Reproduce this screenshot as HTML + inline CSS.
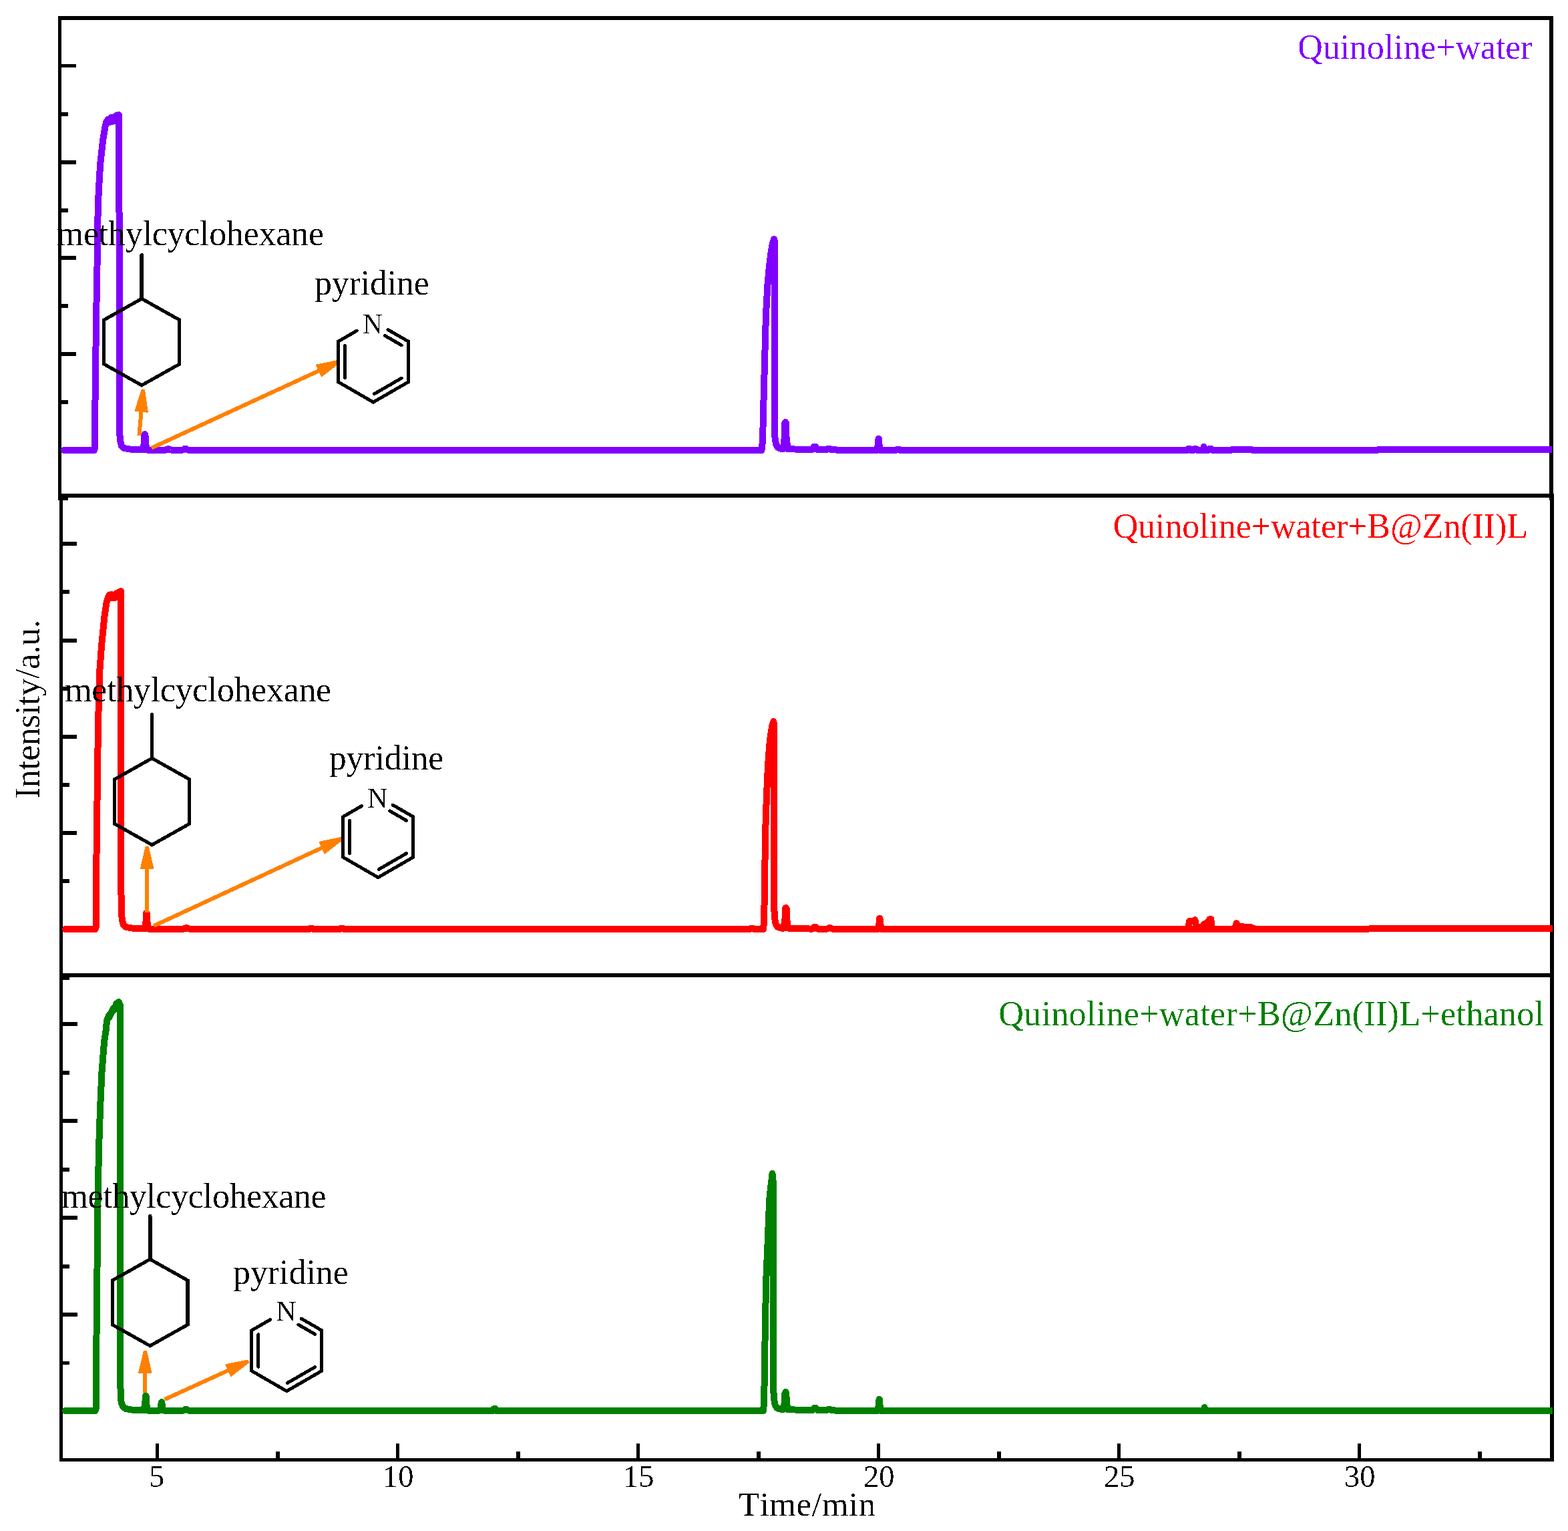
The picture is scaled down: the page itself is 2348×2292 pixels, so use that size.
<!DOCTYPE html>
<html lang="en"><head><meta charset="utf-8"><title>GC chromatograms: quinoline + water</title>
<style>html,body{margin:0;padding:0;background:#fff;}body{width:2348px;height:2292px;overflow:hidden;}svg{display:block;}text{font-family:"Liberation Serif", "DejaVu Serif", serif;font-kerning:none;}</style></head><body>
<svg width="2348" height="2292" viewBox="0 0 2348 2292">
<rect x="0" y="0" width="2348" height="2292" fill="#fff"/>
<g shape-rendering="crispEdges" fill="#000">
<rect x="87" y="24" width="5" height="725" fill="#000"/>
<rect x="2320" y="24" width="6" height="725" fill="#000"/>
<rect x="87" y="24" width="2239" height="6" fill="#000"/>
<rect x="87" y="739" width="2240" height="6" fill="#000"/>
<rect x="89" y="739" width="5" height="1449" fill="#000"/>
<rect x="2321" y="739" width="6" height="1449" fill="#000"/>
<rect x="89" y="1457" width="2238" height="6" fill="#000"/>
<rect x="89" y="2183" width="2238" height="5" fill="#000"/>
<rect x="92" y="96" width="22" height="5" fill="#000"/>
<rect x="92" y="168" width="10" height="6" fill="#000"/>
<rect x="92" y="240" width="22" height="6" fill="#000"/>
<rect x="92" y="312" width="10" height="6" fill="#000"/>
<rect x="92" y="383" width="22" height="6" fill="#000"/>
<rect x="92" y="455" width="10" height="6" fill="#000"/>
<rect x="92" y="527" width="22" height="6" fill="#000"/>
<rect x="92" y="599" width="10" height="6" fill="#000"/>
<rect x="92" y="671" width="22" height="6" fill="#000"/>
<rect x="87" y="745" width="15" height="4" fill="#000"/>
<rect x="94" y="811" width="21" height="6" fill="#000"/>
<rect x="94" y="883" width="10" height="6" fill="#000"/>
<rect x="94" y="956" width="21" height="6" fill="#000"/>
<rect x="94" y="1028" width="10" height="6" fill="#000"/>
<rect x="94" y="1100" width="21" height="6" fill="#000"/>
<rect x="94" y="1172" width="10" height="6" fill="#000"/>
<rect x="94" y="1244" width="21" height="6" fill="#000"/>
<rect x="94" y="1316" width="10" height="6" fill="#000"/>
<rect x="94" y="1388" width="21" height="6" fill="#000"/>
<rect x="89" y="1463" width="15" height="4" fill="#000"/>
<rect x="94" y="1530" width="22" height="6" fill="#000"/>
<rect x="94" y="1603" width="10" height="6" fill="#000"/>
<rect x="94" y="1675" width="22" height="6" fill="#000"/>
<rect x="94" y="1748" width="10" height="6" fill="#000"/>
<rect x="94" y="1820" width="22" height="6" fill="#000"/>
<rect x="94" y="1893" width="10" height="6" fill="#000"/>
<rect x="94" y="1965" width="22" height="6" fill="#000"/>
<rect x="94" y="2038" width="10" height="5" fill="#000"/>
<rect x="94" y="2110" width="22" height="6" fill="#000"/>
<rect x="233" y="2161" width="5" height="22" fill="#000"/>
<rect x="413" y="2173" width="6" height="10" fill="#000"/>
<rect x="593" y="2161" width="5" height="22" fill="#000"/>
<rect x="773" y="2173" width="6" height="10" fill="#000"/>
<rect x="953" y="2161" width="5" height="22" fill="#000"/>
<rect x="1133" y="2173" width="6" height="10" fill="#000"/>
<rect x="1313" y="2161" width="5" height="22" fill="#000"/>
<rect x="1493" y="2173" width="6" height="10" fill="#000"/>
<rect x="1673" y="2161" width="5" height="22" fill="#000"/>
<rect x="1853" y="2173" width="6" height="10" fill="#000"/>
<rect x="2033" y="2161" width="5" height="22" fill="#000"/>
<rect x="2213" y="2173" width="6" height="10" fill="#000"/>
</g>
<defs><clipPath id="c1"><rect x="0" y="0" width="2324" height="2292"/></clipPath><clipPath id="c2"><rect x="0" y="0" width="2325" height="2292"/></clipPath></defs>
<g id="curves" shape-rendering="crispEdges">
<polyline points="96,674 141,674 142,671 142,640 143,560 144,480 145.5,400 146,340 147.7,287 150.2,245 154.4,208 157.2,191 159.2,183 162,178.5 164,183 166.1,176 167.8,182 170.8,175 171.5,181 174.5,172.5 174.2,180 178,172 178.3,200 179,600 179.3,650 180.2,660 182,668 186,671 195,672.5 205,673 214,673.5 216,662.925 216.3,652 216.9,650 217.5,652 217.8,662.925 219.8,673.5 235,673.5 248.5,673.5 251,672.3 253,672.3 255.5,673.5 262,673.5 274.1,673.5 276.6,672 278.6,672 281.1,673.5 290,674 1140.5,674 1142,660 1143.5,600 1145.5,524 1147,470 1149.4,427 1152,398 1154.6,378 1157,364 1159,358 1160,362 1160,640 1160.5,655 1162,665 1165,670 1170,672 1172.9,672 1174.9,654 1175.2,634 1176.2,632 1177.2,634 1177.5,654 1179.5,672 1190,672.5 1212,673 1216.5,673 1219,668.5 1221,668.5 1223.5,673 1234,673 1237.5,673 1240,671.5 1242,671.5 1244.5,673 1260,674 1305,674 1312.85,674 1314.85,666.17 1315.15,658.6 1315.7,656.6 1316.25,658.6 1316.55,666.17 1318.55,674 1335,674 1341.3,674 1343.8,672.5 1345.8,672.5 1348.3,674 1360,674 1772,674 1777.5,674 1779.5,672 1781.5,672 1783.5,674 1786.5,674 1789,672 1791,672 1793.5,674 1797.5,674 1800.6,674 1802.1,671.705 1802.4,670.9 1802.7,668.9 1803,670.9 1803.3,671.705 1804.8,674 1807.5,674 1809,674 1811.5,672 1813.5,672 1816,674 1842,674 1847,672.8 1866,672.8 1868,673.5 1870,672.8 1873,672.8 1876,674 2062,674 2064,673 2334,673" fill="none" stroke="#8000ff" stroke-width="10" stroke-linejoin="round" stroke-linecap="round" clip-path="url(#c1)"/>
<polyline points="98,1391 142.5,1391 143.7,1388 143.7,1360 144.5,1280 145.5,1200 146.5,1120 147.6,1060 149.1,1007 152.2,965 156.4,923 159.6,902 161.5,896 163.5,890.5 165,895 167,890 168.5,895 170,891 172,895 174,888.5 175.5,894 177.5,886.5 178.3,893 181,885 181.2,900 181.5,1340 182,1368 183,1378 185,1385 189,1388 198,1389.5 208,1390 216.5,1390.5 218.5,1379.7 218.8,1368.5 219.4,1366.5 220,1368.5 220.3,1379.7 222.3,1390.5 240,1390.5 275.5,1390.5 278,1389.3 280,1389.3 282.5,1390.5 300,1391 460,1391 462.5,1391 465,1389.8 467,1389.8 469.5,1391 480,1391 505,1391 508.5,1391 511,1389.8 513,1389.8 515.5,1391 520,1391 1120,1391 1122.5,1391 1125,1389.8 1127,1389.8 1129.5,1391 1143,1391 1144.2,1378 1145,1320 1146.2,1244 1148,1190 1150,1147 1152,1118 1154,1100 1156,1088 1158.3,1080 1159.3,1086 1159.3,1360 1160,1374 1161.5,1383 1164.5,1388 1170,1389.5 1173.5,1389.5 1175.5,1375.78 1175.8,1361 1176.8,1359 1177.8,1361 1178.1,1375.78 1180.1,1389.5 1190,1390 1212,1390.5 1217,1390.5 1219.5,1387.5 1221.5,1387.5 1224,1390.5 1234,1390.5 1239.3,1390.5 1241.8,1389.3 1243.8,1389.3 1246.3,1390.5 1256,1391 1306,1391 1314.45,1391 1316.45,1383.66 1316.75,1376.7 1317.3,1374.7 1317.85,1376.7 1318.15,1383.66 1320.15,1391 1335,1391 1600,1390.8 1779.5,1390.8 1781,1379 1785,1379.3 1789.5,1377.4 1790.7,1385 1797,1390.5 1800,1389 1803,1383.4 1806,1383.8 1811.5,1376.2 1813.3,1376.2 1814.3,1386 1816,1390.8 1849,1390.8 1850.6,1385 1851.6,1382.2 1852.8,1384 1854.5,1386.8 1860,1387.1 1867,1388 1873,1387.9 1877,1389.8 1881,1390.8 2335,1390" fill="none" stroke="#ff0000" stroke-width="10" stroke-linejoin="round" stroke-linecap="round" clip-path="url(#c2)"/>
<polyline points="1776,1390.8 1882,1390.8" fill="none" stroke="#ff0000" stroke-width="10" stroke-linejoin="round" stroke-linecap="round"/>
<polyline points="98,2112 142.5,2112 143.7,2109 143.7,2080 144.5,2000 145.5,1900 146.5,1800 148,1720 150,1660 152.5,1605 156,1560 158.6,1543 160.1,1527.5 163.6,1519.3 163.4,1523 169.9,1509.3 170,1512.5 174.6,1502.3 178,1500 179.8,1505 179.9,1540 180.2,2060 180.7,2090 181.7,2100 184.2,2106 188.2,2109 197,2110.5 208,2111 215.4,2111.5 217.4,2101.6 217.7,2091.5 218.3,2089.5 218.9,2091.5 219.2,2101.6 221.2,2111.5 230,2111.5 239.2,2111.5 241.2,2105.88 241.5,2101 242,2099 242.5,2101 242.8,2105.88 244.8,2111.5 262,2111.5 275,2111.5 277.5,2110 279.5,2110 282,2111.5 295,2112 733,2112 738.2,2112 739.7,2109 741.7,2109 743.2,2112 748,2112 1143,2112 1144.2,2098 1145,2040 1146.2,1964 1147.5,1910 1149.5,1863 1151,1825 1152.4,1794 1154,1778 1155.3,1768 1156.5,1757 1157.5,1765 1158,1800 1158.2,2080 1159,2094 1160.5,2103 1163.5,2108 1170,2110 1173.1,2110 1175.1,2098.3 1175.4,2086 1176.4,2084 1177.4,2086 1177.7,2098.3 1179.7,2110 1190,2110.5 1212,2111 1217,2111 1219.5,2108 1221.5,2108 1224,2111 1234,2111 1238,2111 1240.5,2109.8 1242.5,2109.8 1245,2111 1256,2112 1306,2112 1313.85,2112 1315.85,2104.22 1316.15,2096.7 1316.7,2094.7 1317.25,2096.7 1317.55,2104.22 1319.55,2112 1335,2112 1798,2112 1801.9,2112 1803.1,2109.8 1803.4,2109.1 1803.7,2107.1 1804,2109.1 1804.3,2109.8 1805.5,2112 1810,2112 2335,2112" fill="none" stroke="#008000" stroke-width="10" stroke-linejoin="round" stroke-linecap="round" clip-path="url(#c2)"/>
</g>
<g id="arrows" shape-rendering="crispEdges">
<line x1="208.40" y1="652.00" x2="211.69" y2="614.87" stroke="#ff8000" stroke-width="6" stroke-linecap="butt"/>
<polygon points="220.53,616.46 215.92,583.92 212.97,583.66 202.70,614.88" fill="#ff8000" stroke="#ff8000" stroke-width="2.4" stroke-linejoin="round"/>
<line x1="226.90" y1="670.70" x2="478.64" y2="554.53" stroke="#ff8000" stroke-width="6" stroke-linecap="butt"/>
<polygon points="481.66,562.99 507.59,542.80 506.35,540.11 474.16,546.74" fill="#ff8000" stroke="#ff8000" stroke-width="2.4" stroke-linejoin="round"/>
<line x1="220.20" y1="1366.00" x2="220.20" y2="1299.00" stroke="#ff8000" stroke-width="6" stroke-linecap="butt"/>
<polygon points="229.15,1299.80 221.68,1267.80 218.72,1267.80 211.25,1299.80" fill="#ff8000" stroke="#ff8000" stroke-width="2.4" stroke-linejoin="round"/>
<line x1="230.50" y1="1386.00" x2="483.27" y2="1268.69" stroke="#ff8000" stroke-width="6" stroke-linecap="butt"/>
<polygon points="486.31,1277.15 512.19,1256.90 510.94,1254.22 478.77,1260.91" fill="#ff8000" stroke="#ff8000" stroke-width="2.4" stroke-linejoin="round"/>
<line x1="217.10" y1="2085.00" x2="217.29" y2="2054.30" stroke="#ff8000" stroke-width="6" stroke-linecap="butt"/>
<polygon points="226.24,2055.16 218.97,2023.11 216.01,2023.09 208.34,2055.04" fill="#ff8000" stroke="#ff8000" stroke-width="2.4" stroke-linejoin="round"/>
<line x1="246.60" y1="2095.00" x2="342.97" y2="2051.08" stroke="#ff8000" stroke-width="6" stroke-linecap="butt"/>
<polygon points="345.95,2059.56 371.98,2039.49 370.75,2036.80 338.53,2043.27" fill="#ff8000" stroke="#ff8000" stroke-width="2.4" stroke-linejoin="round"/>
</g>
<g id="molecules" shape-rendering="crispEdges">
<polygon points="212.20,447.20 268.50,478.80 268.50,545.20 212.20,576.80 155.90,545.20 155.90,478.80" fill="none" stroke="#000" stroke-width="5.1" stroke-linejoin="miter"/>
<line x1="212.20" y1="447.20" x2="212.20" y2="382.00" stroke="#000" stroke-width="5.6" stroke-linecap="round"/>
<polyline points="534.33,495.14 506.52,511.20 506.52,571.80 559.00,602.10 611.48,571.80 611.48,511.20 581.04,493.63" fill="none" stroke="#000" stroke-width="5.0" stroke-linejoin="miter" stroke-linecap="round"/>
<line x1="516.52" y1="517.26" x2="516.52" y2="565.74" stroke="#000" stroke-width="5.0" stroke-linecap="round"/>
<line x1="560.30" y1="589.80" x2="601.23" y2="566.17" stroke="#000" stroke-width="5.0" stroke-linecap="round"/>
<line x1="601.23" y1="516.83" x2="576.57" y2="502.59" stroke="#000" stroke-width="5.0" stroke-linecap="round"/>
<polygon points="227.60,1135.20 283.90,1166.80 283.90,1233.20 227.60,1264.80 171.30,1233.20 171.30,1166.80" fill="none" stroke="#000" stroke-width="5.1" stroke-linejoin="miter"/>
<line x1="227.60" y1="1135.20" x2="227.60" y2="1070.00" stroke="#000" stroke-width="5.6" stroke-linecap="round"/>
<polyline points="541.53,1206.64 513.72,1222.70 513.72,1283.30 566.20,1313.60 618.68,1283.30 618.68,1222.70 588.24,1205.13" fill="none" stroke="#000" stroke-width="5.0" stroke-linejoin="miter" stroke-linecap="round"/>
<line x1="523.72" y1="1228.76" x2="523.72" y2="1277.24" stroke="#000" stroke-width="5.0" stroke-linecap="round"/>
<line x1="567.50" y1="1301.30" x2="608.43" y2="1277.67" stroke="#000" stroke-width="5.0" stroke-linecap="round"/>
<line x1="608.43" y1="1228.33" x2="583.77" y2="1214.09" stroke="#000" stroke-width="5.0" stroke-linecap="round"/>
<polygon points="224.70,1885.20 281.00,1916.80 281.00,1983.20 224.70,2014.80 168.40,1983.20 168.40,1916.80" fill="none" stroke="#000" stroke-width="5.1" stroke-linejoin="miter"/>
<line x1="224.70" y1="1885.20" x2="224.70" y2="1820.50" stroke="#000" stroke-width="5.6" stroke-linecap="round"/>
<polyline points="404.63,1975.64 376.82,1991.70 376.82,2052.30 429.30,2082.60 481.78,2052.30 481.78,1991.70 451.34,1974.13" fill="none" stroke="#000" stroke-width="5.0" stroke-linejoin="miter" stroke-linecap="round"/>
<line x1="386.82" y1="1997.76" x2="386.82" y2="2046.24" stroke="#000" stroke-width="5.0" stroke-linecap="round"/>
<line x1="430.60" y1="2070.30" x2="471.53" y2="2046.67" stroke="#000" stroke-width="5.0" stroke-linecap="round"/>
<line x1="471.53" y1="1997.33" x2="446.87" y2="1983.09" stroke="#000" stroke-width="5.0" stroke-linecap="round"/>
</g>
<defs><filter id="bin" filterUnits="userSpaceOnUse" x="0" y="0" width="2348" height="2292" color-interpolation-filters="sRGB"><feComponentTransfer><feFuncA type="discrete" tableValues="0 0 0 1 1"/></feComponentTransfer></filter></defs>
<g id="labels" filter="url(#bin)">
<text x="558" y="499.4" font-size="42" fill="#000" text-anchor="middle" >N</text>
<text x="565.2" y="1209.4" font-size="42" fill="#000" text-anchor="middle" >N</text>
<text x="428.3" y="1976.9" font-size="42" fill="#000" text-anchor="middle" >N</text>
<text x="84.71" y="366.5" font-size="52" fill="#000" letter-spacing="-0.248">methylcyclohexane</text>
<text x="470.96" y="440.6" font-size="52" fill="#000" letter-spacing="-0.207">pyridine</text>
<text x="97.21" y="1050" font-size="52" fill="#000" letter-spacing="-0.330">methylcyclohexane</text>
<text x="492.76" y="1152.3" font-size="52" fill="#000" letter-spacing="-0.236">pyridine</text>
<text x="91.61" y="1807.6" font-size="52" fill="#000" letter-spacing="-0.455">methylcyclohexane</text>
<text x="348.96" y="1922.2" font-size="52" fill="#000" letter-spacing="-0.064">pyridine</text>
<text x="1943.27" y="88.3" font-size="52" fill="#8000ff" letter-spacing="-0.106">Quinoline+water</text>
<text x="1666.67" y="804.6" font-size="52" fill="#ff0000" letter-spacing="-0.088">Quinoline+water+B@Zn(II)L</text>
<text x="1495.15" y="1535.2" font-size="52.3" fill="#008000" letter-spacing="0.206">Quinoline+water+B@Zn(II)L+ethanol</text>
<text x="234.7" y="2225.5" font-size="46.5" fill="#000" text-anchor="middle" >5</text>
<text x="596.3" y="2225.5" font-size="46.5" fill="#000" text-anchor="middle" >10</text>
<text x="956.3" y="2225.5" font-size="46.5" fill="#000" text-anchor="middle" >15</text>
<text x="1316.3" y="2225.5" font-size="46.5" fill="#000" text-anchor="middle" >20</text>
<text x="1676.3" y="2225.5" font-size="46.5" fill="#000" text-anchor="middle" >25</text>
<text x="2036.3" y="2225.5" font-size="46.5" fill="#000" text-anchor="middle" >30</text>
<text x="1105.67" y="2268.8" font-size="51.5" fill="#000" letter-spacing="0.357">Time/min</text>
<text x="-133.43" y="0" font-size="53.5" fill="#000" letter-spacing="-0.836" transform="translate(58.6,1062.5) rotate(-90)">Intensity/a.u.</text>
</g>
</svg></body></html>
